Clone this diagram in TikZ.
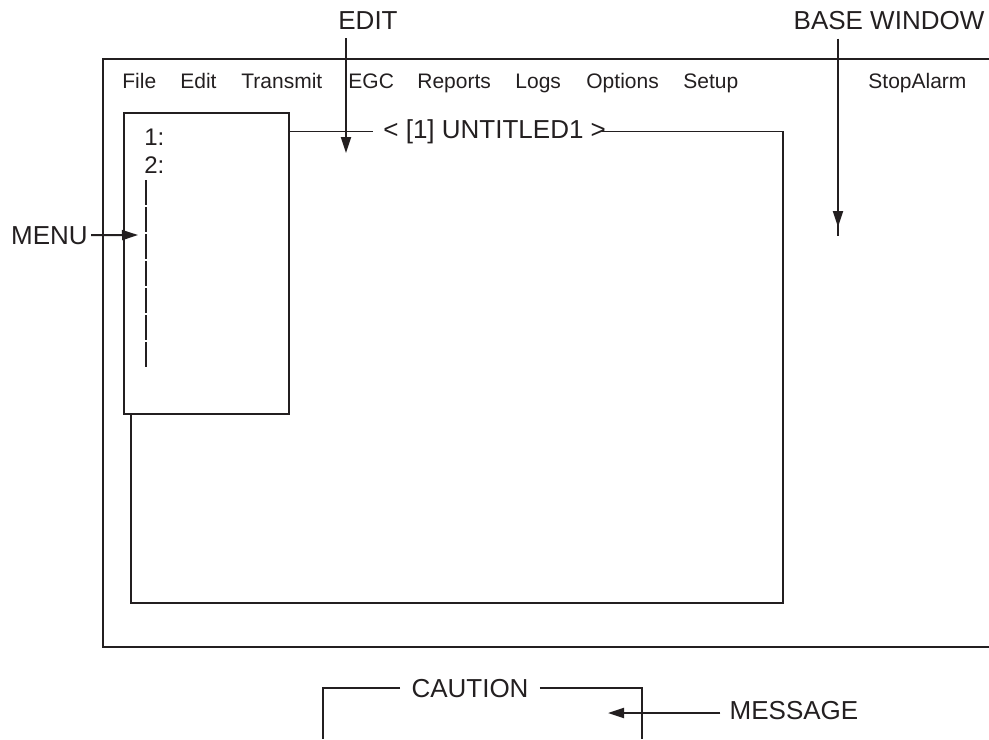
\documentclass[tikz,border=0pt]{standalone}
\usepackage{fontspec}
\setmainfont{Liberation Sans}
\usetikzlibrary{arrows.meta, positioning}
\definecolor{ink}{HTML}{231F20}

\begin{document}
\begin{tikzpicture}[
  x=0.5pt, y=-0.5pt, color=ink,
  frame/.style={line width=0.6pt},
  bracket/.style={line width=1pt},
  pointer/.style={-{Triangle[length=8pt, width=5pt]}, line width=1pt},
  callout/.style={font=\fontsize{13}{15}\selectfont, anchor=base, inner sep=4.5pt},
  baritem/.style={font=\fontsize{10.5}{12}\selectfont, anchor=base west, inner sep=0pt},
  entry/.style={font=\fontsize{12}{14}\selectfont, anchor=base west, inner sep=0pt},
  wintitle/.style={font=\fontsize{13}{15}\selectfont, anchor=base west, inner sep=0pt},
  menubox/.style={rectangle, draw, line width=0.6pt, inner sep=0pt, minimum width=82.5pt, minimum height=150.5pt}
]
\useasboundingbox (0,0) rectangle (989,739);

% menu bar
\node[baritem] (mFile) at (122,88) {File};
\node[baritem] (mEdit) at (180,88) {Edit};
\node[baritem] (mTransmit) at (241,88) {Transmit};
\node[baritem] (mEGC) at (348,88) {EGC};
\node[baritem] (mReports) at (417,88) {Reports};
\node[baritem] (mLogs) at (515,88) {Logs};
\node[baritem] (mOptions) at (586,88) {Options};
\node[baritem] (mSetup) at (683,88) {Setup};
\node[baritem] (mStop) at (868,88) {StopAlarm};

% windows
\node[menubox] (menubox) at (206.5,263.5) {};
\node[entry] (item1) at (144,145) {1:};
\node[entry] (item2) at (144,173) {2:};
\node[wintitle] (title) at (383,138) {< [1] UNTITLED1 >};

% callouts
\node[callout] (editlbl) at (368,29) {EDIT};
\node[callout] (baselbl) at (889,29) {BASE WINDOW};
\node[callout, inner sep=1.5pt] (menulbl) at (49.5,244) {MENU};
\node[callout] (msglbl) at (794,719) {MESSAGE};
\node[callout, inner xsep=5.5pt] (caution) at (470,697) {CAUTION};

\coordinate (baseTR) at (989,59);
\coordinate (baseTL) at (103,59);
\coordinate (baseBL) at (103,647);
\coordinate (baseBR) at (989,647);
\coordinate (winBL) at (131,603);
\coordinate (winBR) at (783,603);
\coordinate (dashTop) at (146,180);
\coordinate (dashBot) at (146,367);
\coordinate (cautBL) at (323,739);
\coordinate (cautBR) at (642,739);
\coordinate (edittip) at (346,153);
\coordinate (basetip) at (838,227);
\coordinate (baseend) at (838,236);
\coordinate (menutip) at (138,235);
\coordinate (msgtip) at (608,713);

% outlines
\draw[frame] (baseTR) -- (baseTL) -- (baseBL) -- (baseBR);
\draw[frame] (menubox.east |- title.west) -- ([xshift=-5pt]title.west);
\draw[frame] ([xshift=-2pt]title.east) -| (winBR) -- (winBL) -- (winBL |- menubox.south);
\draw[frame, dash pattern=on 12.7pt off 0.8pt] (dashTop) -- (dashBot);
\draw[bracket] (caution.west) -| (cautBL);
\draw[bracket] (caution.east) -| (cautBR);

% Arrows
\draw[pointer] (edittip |- editlbl.south) -- (edittip);
\draw[pointer] (basetip |- baselbl.south) -- (basetip);
\draw[line width=1pt] ([yshift=3pt]basetip) -- (baseend);
\draw[pointer] (menulbl.east) -- (menutip);
\draw[pointer] (msglbl.west |- msgtip) -- (msgtip);

\end{tikzpicture}
\end{document}
